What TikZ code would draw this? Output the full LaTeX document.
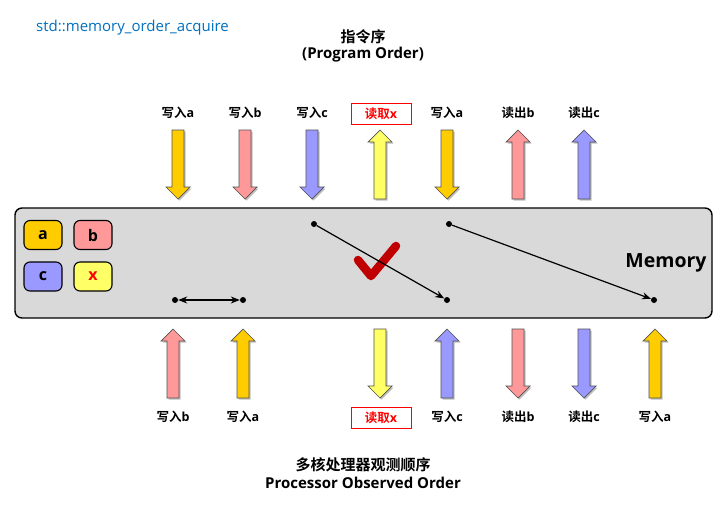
\documentclass[tikz,border=0pt]{standalone}
\usepackage{fontspec}
\setmainfont{Open Sans}
\newfontfamily\cjk{Noto Sans CJK SC}[BoldFont={Noto Sans CJK SC Bold}]
\usetikzlibrary{arrows.meta}
\definecolor{cA}{HTML}{FFCC00}
\definecolor{cB}{HTML}{FF9999}
\definecolor{cC}{HTML}{9999FF}
\definecolor{cX}{HTML}{FFFF66}
\definecolor{memfill}{HTML}{D9D9D9}
\definecolor{stdblue}{HTML}{0070C0}
\definecolor{checkred}{HTML}{C00000}
\definecolor{arrline}{HTML}{505050}
\newcommand\DownArr[4]{%
  \fill[black!25] (#1-6+1.5,#2+1.5) -- (#1+6+1.5,#2+1.5) -- (#1+6+1.5,#3-12+1.5) -- (#1+12+1.5,#3-12+1.5) -- (#1+1.5,#3+1.5) -- (#1-12+1.5,#3-12+1.5) -- (#1-6+1.5,#3-12+1.5) -- cycle;
  \draw[arrstyle,fill=#4] (#1-6,#2) -- (#1+6,#2) -- (#1+6,#3-12) -- (#1+12,#3-12) -- (#1,#3) -- (#1-12,#3-12) -- (#1-6,#3-12) -- cycle;}
\newcommand\UpArr[4]{%
  \fill[black!25] (#1-6+1.5,#3+1.5) -- (#1+6+1.5,#3+1.5) -- (#1+6+1.5,#2+12+1.5) -- (#1+12+1.5,#2+12+1.5) -- (#1+1.5,#2+1.5) -- (#1-12+1.5,#2+12+1.5) -- (#1-6+1.5,#2+12+1.5) -- cycle;
  \draw[arrstyle,fill=#4] (#1-6,#3) -- (#1+6,#3) -- (#1+6,#2+12) -- (#1+12,#2+12) -- (#1,#2) -- (#1-12,#2+12) -- (#1-6,#2+12) -- cycle;}
\begin{document}
\begin{tikzpicture}[x=1pt,y=-1pt,
  arrstyle/.style={draw=arrline,line width=0.7pt,line join=miter},
  lbl/.style={font=\bfseries\fontsize{12.5}{14}\selectfont,inner sep=0pt},
  redlbl/.style={font=\bfseries\fontsize{12.5}{14}\selectfont,text=red,draw=red,line width=0.8pt,fill=white,minimum width=60pt,minimum height=21pt,inner sep=0pt},
  title/.style={font=\bfseries\fontsize{15}{17}\selectfont,inner sep=0pt},
  membox/.style={draw=black,line width=1.4pt,fill=memfill,rounded corners=7pt,minimum width=697pt,minimum height=110pt,inner sep=0pt},
  varbox/.style={draw=black,line width=1.1pt,rounded corners=6pt,minimum width=38pt,minimum height=29pt,inner sep=0pt,font=\bfseries\fontsize{16}{18}\selectfont},
  dot/.style={circle,fill=black,minimum size=6pt,inner sep=0pt},
  link/.style={line width=1.2pt,-{Stealth[length=9pt,width=7pt]}},
  dlink/.style={line width=1.2pt,{Stealth[length=9pt,width=7pt]}-{Stealth[length=9pt,width=7pt]}}
]
\useasboundingbox[fill=white] (0,0) rectangle (723,504);

% header texts
\node[anchor=west,inner sep=0pt,text=stdblue,font=\fontsize{15}{17}\selectfont] (std) at (36,28) {std::memory\_order\_acquire};
\node[title] (t1) at (363,37) {\cjk 指令序};
\node[title] (t2) at (363,55) {(Program Order)};
\node[title] (b1) at (363,465) {\cjk 多核处理器观测顺序};
\node[title] (b2) at (363,483) {Processor Observed Order};

% top labels
\node[lbl] (tl1) at (178,113) {{\cjk 写入}a};
\node[lbl] (tl2) at (245,113) {{\cjk 写入}b};
\node[lbl] (tl3) at (312,113) {{\cjk 写入}c};
\node[redlbl] (tl4) at (381,113.5) {{\cjk 读取}x};
\node[lbl] (tl5) at (447,113) {{\cjk 写入}a};
\node[lbl] (tl6) at (518,113) {{\cjk 读出}b};
\node[lbl] (tl7) at (584,113) {{\cjk 读出}c};

% top arrows
\DownArr{178}{130}{199}{cA}
\DownArr{245}{130}{199}{cB}
\DownArr{312}{130}{199}{cC}
\UpArr{380}{130}{199}{cX}
\DownArr{447}{130}{199}{cA}
\UpArr{518}{130}{199}{cB}
\UpArr{584}{130}{199}{cC}

% memory
\node[membox] (mem) at (363.5,263) {};
\node[varbox,fill=cA] (va) at (43,235) {a};
\node[varbox,fill=cB] (vb) at (93,235) {b};
\node[varbox,fill=cC] (vc) at (43,276.5) {c};
\node[varbox,fill=cX,text=red] (vx) at (93,276.5) {x};
\node[inner sep=0pt,font=\bfseries\fontsize{19.5}{21}\selectfont] (memlbl) at (666,263) {Memory};

\draw[checkred,line width=8.5pt,line cap=round,line join=round] (358,260) -- (371,276) -- (396,246);

\node[dot] (p1) at (314,224) {};
\node[dot] (p2) at (447,300) {};
\node[dot] (p3) at (449,224) {};
\node[dot] (p4) at (654,300) {};
\node[dot] (q1) at (175,300) {};
\node[dot] (q2) at (243,300) {};
\draw[link] (p1) -- (p2);
\draw[link] (p3) -- (p4);
\draw[dlink] (q1) -- (q2);

% bottom arrows
\UpArr{173}{329}{398}{cB}
\UpArr{243}{329}{398}{cA}
\DownArr{380}{329}{398}{cX}
\UpArr{447}{329}{398}{cC}
\DownArr{518}{329}{398}{cB}
\DownArr{584}{329}{398}{cC}
\UpArr{655}{329}{398}{cA}

% bottom labels
\node[lbl] (bl1) at (173,417) {{\cjk 写入}b};
\node[lbl] (bl2) at (243,417) {{\cjk 写入}a};
\node[redlbl] (bl3) at (381,417.5) {{\cjk 读取}x};
\node[lbl] (bl4) at (447,417) {{\cjk 写入}c};
\node[lbl] (bl5) at (518,417) {{\cjk 读出}b};
\node[lbl] (bl6) at (584,417) {{\cjk 读出}c};
\node[lbl] (bl7) at (655,417) {{\cjk 写入}a};
\end{tikzpicture}
\end{document}
